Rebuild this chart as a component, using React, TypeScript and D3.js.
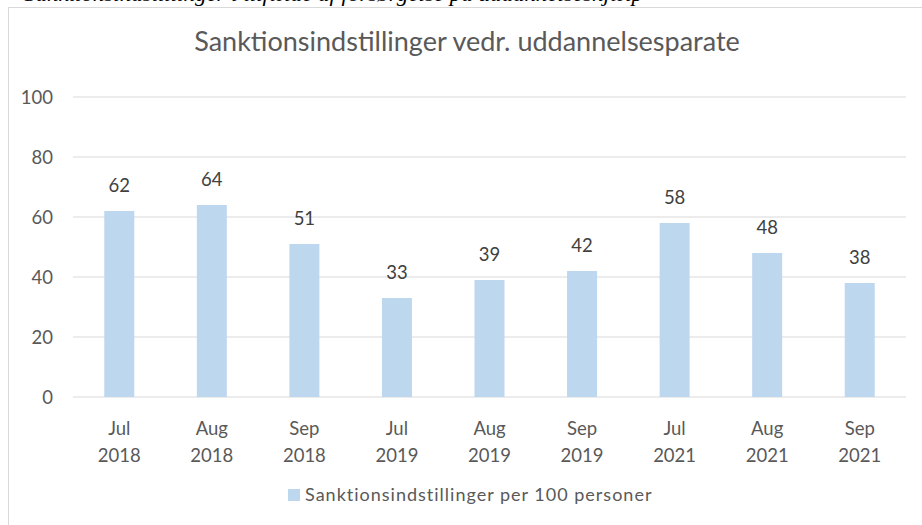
import React from "react";
import * as d3 from "d3";

const months = ["Jul", "Aug", "Sep", "Jul", "Aug", "Sep", "Jul", "Aug", "Sep"];
const years = ["2018", "2018", "2018", "2019", "2019", "2019", "2021", "2021", "2021"];
const values = [62, 64, 51, 33, 39, 42, 58, 48, 38];
const yTicks = [0, 20, 40, 60, 80, 100];
const title = "Sanktionsindstillinger vedr. uddannelsesparate";
const seriesName = "Sanktionsindstillinger per 100 personer";
const caption = "Sanktionsindstillinger i tilfælde af forsørgelse på uddannelseshjælp";

const W = 922;
const H = 525;
const FONT = "Lato, Carlito, 'Noto Sans', sans-serif";

export default function App() {
  const keys = values.map((_, i) => String(i));
  const x = d3.scaleBand().domain(keys).range([73, 906]).paddingInner(0.676).paddingOuter(0.338);
  const y = d3.scaleLinear().domain([0, 100]).range([397, 97]);

  return (
    <svg
      width={W}
      height={H}
      style={{ position: "absolute", left: 0, top: 0, background: "#fff" }}
    >
      <text
        x={24}
        y={1}
        fontFamily="Liberation Serif, DejaVu Serif, serif"
        fontStyle="italic"
        fontSize={22}
        fill="#000"
        textLength={619}
        lengthAdjust="spacingAndGlyphs"
      >
        {caption}
      </text>
      <rect x={8.5} y={7.5} width={930} height={540} fill="#fff" stroke="#D9D9D9" strokeWidth={1} />
      <text x={467} y={51} textAnchor="middle" fontFamily={FONT} fontSize={27} fill="#595959">
        {title}
      </text>
      {yTicks.map((t) => (
        <g key={t}>
          <line x1={73} x2={906} y1={y(t)} y2={y(t)} stroke="#D9D9D9" strokeWidth={1.2} />
          <text x={53} y={y(t) + 6.5} textAnchor="end" fontFamily={FONT} fontSize={18.5} fill="#595959">
            {t}
          </text>
        </g>
      ))}
      {values.map((v, i) => {
        const bx = x(String(i))!;
        const cx = bx + x.bandwidth() / 2;
        return (
          <g key={i}>
            <rect x={bx} y={y(v)} width={x.bandwidth()} height={y(0) - y(v)} fill="#BDD7EE" />
            <text x={cx} y={y(v) - 19} textAnchor="middle" fontFamily={FONT} fontSize={18.5} fill="#404040">
              {v}
            </text>
            <text x={cx} y={435} textAnchor="middle" fontFamily={FONT} fontSize={18.5} fill="#595959">
              {months[i]}
            </text>
            <text x={cx} y={462} textAnchor="middle" fontFamily={FONT} fontSize={18.5} fill="#595959">
              {years[i]}
            </text>
          </g>
        );
      })}
      <rect x={288} y={489} width={12} height={12} fill="#BDD7EE" />
      <text x={305} y={501} fontFamily={FONT} fontSize={18} fill="#595959" letterSpacing={1}>
        {seriesName}
      </text>
    </svg>
  );
}
